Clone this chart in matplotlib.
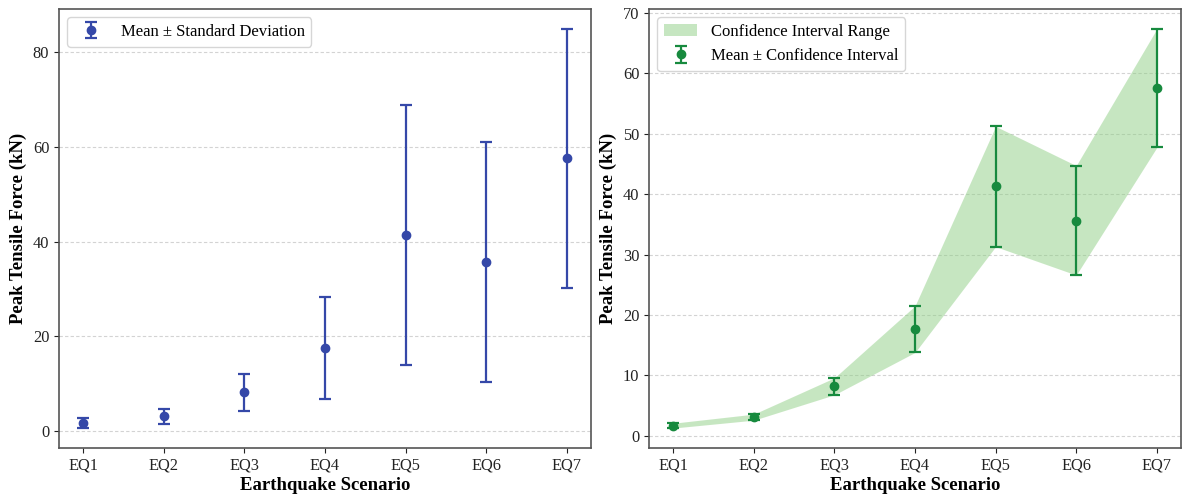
import matplotlib
matplotlib.use("Agg")
import matplotlib.pyplot as plt
import numpy as np

plt.rcParams['font.family'] = ['Liberation Serif', 'DejaVu Serif']

scenarios = ["EQ1", "EQ2", "EQ3", "EQ4", "EQ5", "EQ6", "EQ7"]
mean_force = [1.75, 3.15, 8.2, 17.6, 41.4, 35.7, 57.6]
std_force = [1.1, 1.55, 3.95, 10.8, 27.5, 25.3, 27.3]

ci_mean = [1.7, 3.1, 8.2, 17.6, 41.3, 35.6, 57.5]
ci_lower = [1.3, 2.6, 6.8, 13.8, 31.3, 26.6, 47.7]
ci_upper = [2.1, 3.6, 9.6, 21.5, 51.2, 44.7, 67.3]

blue = '#3548a8'
green = '#178a3e'
fill_green = '#8fcf85'

fig = plt.figure(figsize=(11.82, 4.95), dpi=100)
W, H = 1182, 495
ax1 = fig.add_axes([59 / W, (H - 448) / H, 532 / W, 439 / H])
ax2 = fig.add_axes([649 / W, (H - 448) / H, 532 / W, 439 / H])

x = np.arange(len(scenarios))

ax1.errorbar(x, mean_force, yerr=std_force, fmt='o', color=blue, ecolor=blue,
             markersize=6, elinewidth=1.6, capsize=4.5, capthick=1.6,
             label='Mean ± Standard Deviation')

ax2.fill_between(x, ci_lower, ci_upper, color=fill_green, alpha=0.5, linewidth=0,
                 label='Confidence Interval Range')
ax2.errorbar(x, ci_mean, yerr=[np.array(ci_mean) - np.array(ci_lower),
                               np.array(ci_upper) - np.array(ci_mean)],
             fmt='o', color=green, ecolor=green, markersize=6, elinewidth=1.6,
             capsize=4.5, capthick=1.6, label='Mean ± Confidence Interval')

for ax in (ax1, ax2):
    ax.set_xticks(x)
    ax.set_xticklabels(scenarios)
    ax.tick_params(labelsize=11.8, colors='#222222', length=3.5)
    ax.set_xlabel('Earthquake Scenario', fontsize=13.5, fontweight='bold', labelpad=2)
    ax.set_ylabel('Peak Tensile Force (kN)', fontsize=13.5, fontweight='bold')
    ax.grid(axis='y', linestyle=(0, (3, 2)), color='#c8c8c8', alpha=0.8, linewidth=0.8)
    ax.set_axisbelow(True)
    for s in ax.spines.values():
        s.set_color('#555555')
        s.set_linewidth(1.2)
    ax.legend(loc='upper left', fontsize=12, frameon=True, framealpha=0.8,
              edgecolor='#cccccc', fancybox=True)

fig.savefig('out.png', dpi=100)
